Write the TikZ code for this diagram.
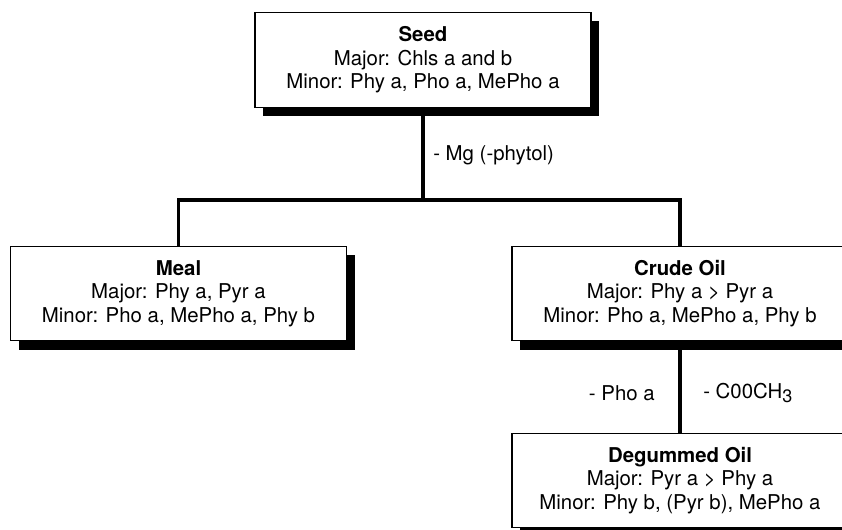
\documentclass[tikz,border=0pt]{standalone}
\usepackage{fontspec}
\setmainfont{TeX Gyre Heros}
\usetikzlibrary{positioning, calc, shadows, backgrounds}
\newcommand{\stagehead}[1]{\textbf{#1}}
\newcommand{\lowsub}[1]{\raisebox{-0.4ex}{\fontsize{13.5}{13.5}\selectfont #1}}

\tikzset{
    stagebox/.style={draw=black, fill=white, line width=0.9pt,
          minimum width=252pt, minimum height=71pt, align=center,
          inner sep=0pt, font=\fontsize{15.3}{17.6}\selectfont,
          drop shadow={shadow xshift=6pt, shadow yshift=-6.5pt, fill=black, opacity=1}},
    link/.style={draw=black, line width=2.4pt},
    steplabel/.style={inner sep=0pt, font=\fontsize{15.3}{17.6}\selectfont}
}

\begin{document}
\begin{tikzpicture}[x=0.75pt, y=-0.75pt]
    \useasboundingbox (0,0) rectangle (842,529);

    \node[stagebox] (seed) at (423,60) {
      \stagehead{Seed}\\
      Major: Chls a and b\\
      Minor: Phy a, Pho a, MePho a
    };
    \node[stagebox] (meal) at (178.5,293.5) {
      \stagehead{Meal}\\
      Major: Phy a, Pyr a\\
      Minor: Pho a, MePho a, Phy b
    };
    \node[stagebox] (crude) at (680,293.5) {
      \stagehead{Crude Oil}\\
      Major: Phy a > Pyr a\\
      Minor: Pho a, MePho a, Phy b
    };
    \node[stagebox] (degum) at (680,480.5) {
      \stagehead{Degummed Oil}\\
      Major: Pyr a > Phy a\\
      Minor: Phy b, (Pyr b), MePho a
    };

    \node[steplabel, anchor=west] (mg) at (433,155) {- Mg (-phytol)};
    \node[steplabel, anchor=east] (pho) at (655,393) {- Pho a};
    \node[steplabel, anchor=west] (coo) at (703,393) {- C00CH\lowsub{3}};

    % connectors behind the boxes
    \begin{scope}[on background layer]
      \coordinate (split) at (seed.center |- 0,200);
      \draw[link] (seed.center) -- (split);
      \draw[link] (meal.center) |- (split) -| (crude.center);
      \draw[link] (crude.center) -- (degum.center);
    \end{scope}
  \end{tikzpicture}
\end{document}
